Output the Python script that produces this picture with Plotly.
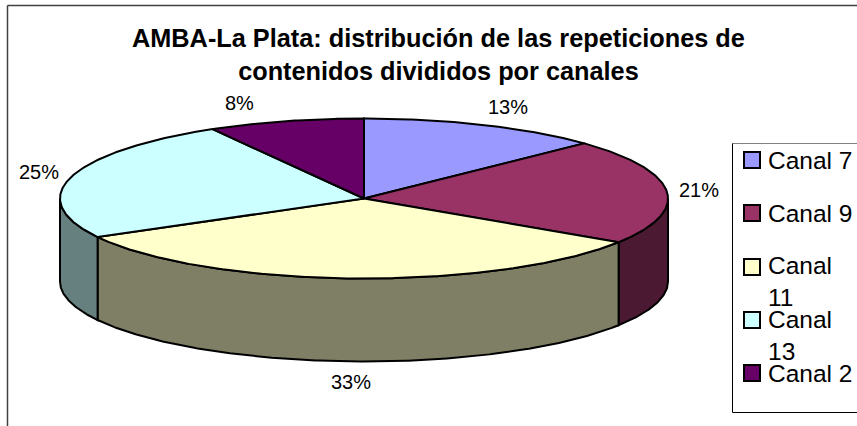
import math
import plotly.graph_objects as go

categories = ["Canal 7", "Canal 9", "Canal 11", "Canal 13", "Canal 2"]
legend_labels = ["Canal 7", "Canal 9", "Canal<br>11", "Canal<br>13", "Canal 2"]
values = [12.9, 21.3, 32.8, 24.7, 8.3]
top_colors = ["#9999FF", "#993366", "#FFFFCC", "#CCFFFF", "#660066"]
wall_colors = ["#4C4C7F", "#4C1933", "#7F7F66", "#667F7F", "#330033"]
title_text = "<b>AMBA-La Plata: distribución de las repeticiones de<br>contenidos divididos por canales</b>"

# pie geometry in pixel-like axis units
CX, CY, RX, RY, DEPTH = 364, 198.5, 304, 80, 83
label_nudges = [(24, -18), (32, -1), (-2, 104), (-32, -5), (-46, -18)]
legend_y = [160, 213, 267, 320, 373]
legend_text_y = [160, 213, 281, 335, 373]


def rim(a, dy=0):
    r = math.radians(a)
    return CX + RX * math.sin(r), CY - RY * math.cos(r) + dy


def arc(a0, a1, dy=0):
    n = max(2, int(abs(a1 - a0) * 2))
    return [rim(a0 + (a1 - a0) * i / n, dy) for i in range(n + 1)]


def add_poly(fig, pts, fill, name):
    fig.add_trace(go.Scatter(
        x=[p[0] for p in pts], y=[p[1] for p in pts], mode="lines", fill="toself",
        fillcolor=fill, line=dict(color="#000000", width=2), name=name,
        showlegend=False, hoverinfo="name"))


fig = go.Figure()
total = sum(values)
starts, acc = [], 0
for v in values:
    starts.append(acc / total * 360)
    acc += v
ends = starts[1:] + [360]

# walls of the front half, drawn first
for cat, a0, a1, wc in zip(categories, starts, ends, wall_colors):
    lo, hi = max(a0, 90), min(a1, 270)
    if lo < hi:
        add_poly(fig, arc(lo, hi) + arc(hi, lo, DEPTH) + [rim(lo)], wc, cat)

# top faces
for cat, a0, a1, tc in zip(categories, starts, ends, top_colors):
    add_poly(fig, [(CX, CY)] + arc(a0, a1) + [(CX, CY)], tc, cat)

anns = []
for v, a0, a1, (nx, ny) in zip(values, starts, ends, label_nudges):
    x, y = rim((a0 + a1) / 2)
    anns.append(dict(x=x + nx, y=y + ny, text=f"{round(v / total * 100)}%", showarrow=False,
                     font=dict(size=20, color="#000000")))

# legend
fig.add_trace(go.Scatter(
    x=[752] * len(categories), y=legend_y, mode="markers",
    marker=dict(symbol="square", size=16, color=top_colors, line=dict(color="#000000", width=2)),
    showlegend=False, hoverinfo="skip"))
for lab, y in zip(legend_labels, legend_text_y):
    anns.append(dict(x=766, y=y, text=lab, showarrow=False, xanchor="left", align="left",
                     font=dict(size=24.5, color="#000000")))
anns.append(dict(x=438, y=54, text=title_text, showarrow=False,
                 font=dict(size=25.3, color="#000000")))

shapes = [
    dict(type="line", x0=7.5, x1=7.5, y0=5.5, y1=426, line=dict(color="#404040", width=1.5)),
    dict(type="line", x0=7.5, x1=857, y0=5.5, y1=5.5, line=dict(color="#404040", width=1.5)),
    dict(type="rect", x0=732.5, x1=858, y0=143.5, y1=412.5, line=dict(color="#000000", width=1)),
    dict(type="line", x0=732.5, x1=857, y0=143.5, y1=143.5, line=dict(color="#808080", width=1)),
]

fig.update_layout(
    width=857, height=426, margin=dict(l=0, r=0, t=0, b=0),
    paper_bgcolor="#FFFFFF", plot_bgcolor="#FFFFFF",
    font=dict(family="Liberation Sans, Arial, sans-serif"),
    xaxis=dict(range=[0, 857], visible=False),
    yaxis=dict(range=[426, 0], visible=False),
    annotations=anns, shapes=shapes, showlegend=False,
)
fig.write_html("out.html", post_script="document.body.style.margin='0';document.body.style.overflow='hidden';",
               config=dict(displayModeBar=False))
